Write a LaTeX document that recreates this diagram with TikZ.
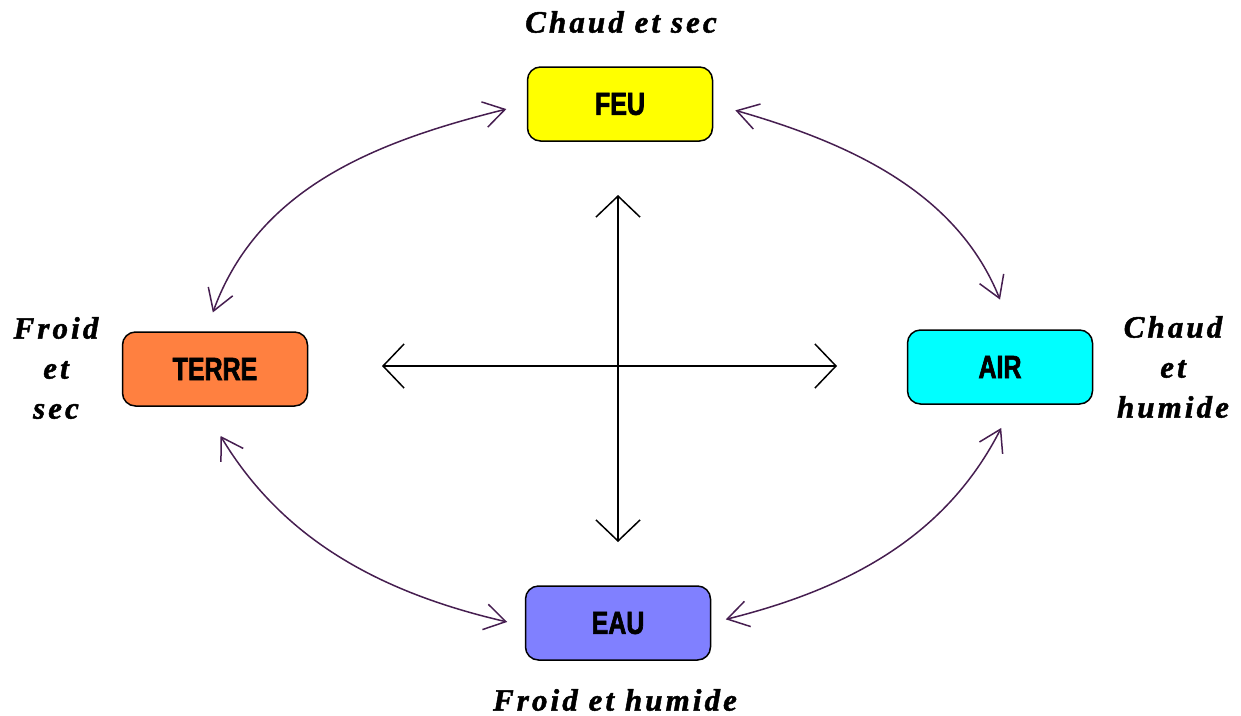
\documentclass[tikz,border=0pt]{standalone}
\usepackage{fontspec}
\usetikzlibrary{arrows.meta}
\newfontfamily\boxfont[FakeStretch=0.78,FakeBold=2]{Liberation Sans}
\newfontfamily\qualfont[LetterSpace=10,FakeBold=1.5]{Liberation Serif}
\definecolor{linkcol}{RGB}{70,30,80}
\definecolor{feucol}{RGB}{255,255,0}
\definecolor{terrecol}{RGB}{255,128,64}
\definecolor{aircol}{RGB}{0,255,255}
\definecolor{eaucol}{RGB}{128,128,255}
\tikzset{
  element/.style={draw=black, line width=1.5pt, rounded corners=13pt,
    minimum width=185pt, minimum height=74pt, inner sep=0pt,
    font=\boxfont\bfseries\fontsize{32}{38}\selectfont},
  quality/.style={align=center,
    font=\qualfont\bfseries\itshape\fontsize{31}{40}\selectfont},
  axis/.style={draw=black, line width=1.5pt,
    {Straight Barb[length=21pt,width=44pt]}-{Straight Barb[length=21pt,width=44pt]}},
  link/.style={draw=linkcol, line width=1.5pt,
    {Straight Barb[length=21pt,width=26pt]}-{Straight Barb[length=21pt,width=26pt]}}
}
\begin{document}
\begin{tikzpicture}[x=1pt,y=-1pt]
\useasboundingbox (0,0) rectangle (1241,715);

% the four elements
\node[element, fill=feucol]   (feu)   at (620,104) {FEU};
\node[element, fill=terrecol] (terre) at (215,369) {TERRE};
\node[element, fill=aircol]   (air)   at (1000,367) {AIR};
\node[element, fill=eaucol]   (eau)   at (618,623) {EAU};

% qualities
\node[quality] (qfeu)   at (621,22)  {Chaud et sec};
\node[quality] (qterre) at (56,368)  {Froid\\et\\sec};
\node[quality] (qair)   at (1173,367) {Chaud\\et\\humide};
\node[quality] (qeau)   at (615,700) {Froid et humide};

% central cross
\coordinate (top)    at (618,195);
\coordinate (bottom) at (618,542);
\coordinate (left)   at (382,366);
\coordinate (right)  at (837,366);
\draw[axis] (top) -- (bottom);
\draw[axis] (left) -- (right);

% transformations between neighbouring elements
\draw[link, shorten <=21pt, shorten >=20pt]
  (feu.west) to[out=194, in=70] ([xshift=-9pt]terre.north);
\draw[link, shorten <=23pt, shorten >=32pt]
  (feu.east) to[out=-16, in=112] ([xshift=12pt]air.north);
\draw[link, shorten <=34pt, shorten >=18pt]
  ([xshift=-12pt]terre.south) to[out=-59, in=167] ([yshift=-3pt]eau.west);
\draw[link, shorten <=26pt, shorten >=15pt]
  ([xshift=13pt]air.south) to[out=243, in=14] (eau.east);
\end{tikzpicture}
\end{document}
